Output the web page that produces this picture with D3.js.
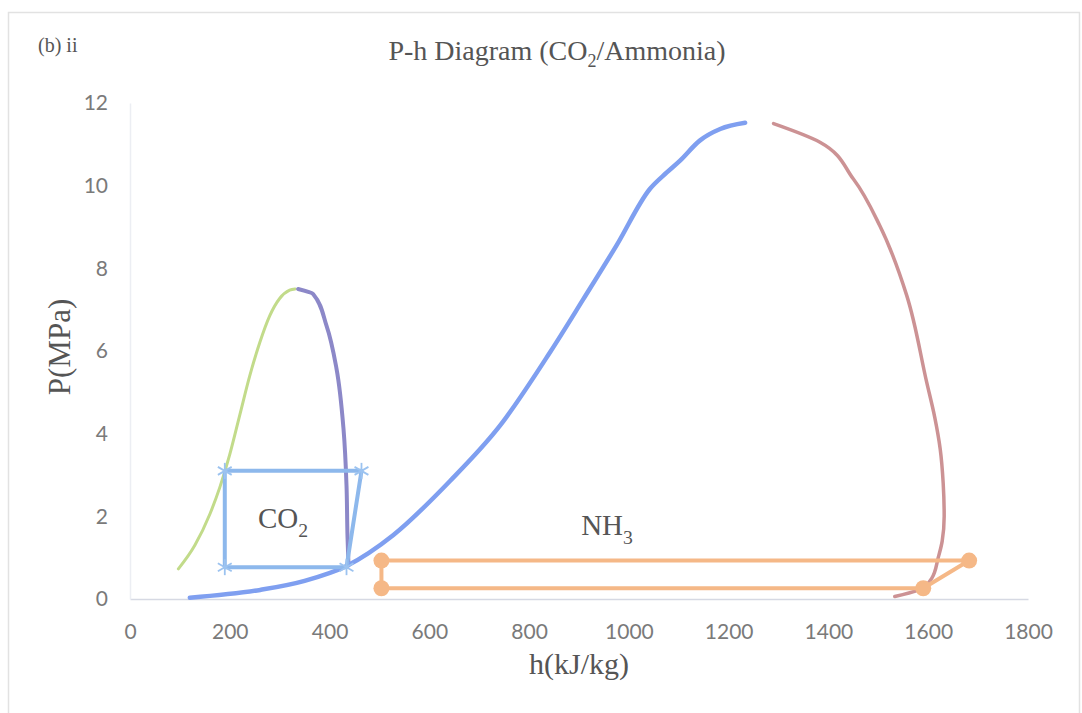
<!DOCTYPE html>
<html>
<head>
<meta charset="utf-8">
<script src="https://cdn.jsdelivr.net/npm/d3@7"></script>
<style>
  html, body { margin: 0; padding: 0; background: #fff; }
  svg { display: block; }
</style>
</head>
<body>
<svg id="chart" width="1082" height="713"></svg>
<script>
// ---- data (h in kJ/kg, P in MPa) ----
const co2LiqH = [97, 130, 160, 180, 200, 220, 240, 260, 280, 300, 320, 331];
const co2LiqP = [0.73, 1.3, 2.05, 2.7, 3.5, 4.45, 5.4, 6.2, 6.85, 7.27, 7.47, 7.5];
const co2VapH = [337, 367, 394, 414, 428, 434, 436, 438];
const co2VapP = [7.5, 7.38, 6.61, 5.57, 4.11, 2.74, 1.5, 0.81];
const nh3LiqH = [120, 261, 350, 434, 528, 641, 742, 842, 909, 975, 1042, 1076, 1102, 1142, 1183, 1233];
const nh3LiqP = [0.03, 0.22, 0.44, 0.8, 1.55, 2.85, 4.2, 5.97, 7.26, 8.55, 9.92, 10.32, 10.6, 11.09, 11.37, 11.52];
const nh3VapH = [1290, 1383, 1450, 1503, 1557, 1597, 1613, 1624, 1630, 1632, 1628, 1620, 1607, 1577, 1533];
const nh3VapP = [11.5, 11.05, 10.16, 9.03, 7.34, 5.24, 4.4, 3.63, 2.8, 2.0, 1.4, 1.0, 0.5, 0.2, 0.06];
const co2CycleH = [190, 464, 434, 190, 190];
const co2CycleP = [3.1, 3.1, 0.77, 0.77, 3.1];
const nh3CycleH = [504, 1682, 1590, 504, 504];
const nh3CycleP = [0.93, 0.93, 0.26, 0.26, 0.93];
const xTicks = [0, 200, 400, 600, 800, 1000, 1200, 1400, 1600, 1800];
const yTicks = [0, 2, 4, 6, 8, 10, 12];

const zip = (hs, ps) => hs.map((h, i) => ({h, p: ps[i]}));

const svg = d3.select("#chart");
const x = d3.scaleLinear().domain([0, 1800]).range([130, 1028]);
const y = d3.scaleLinear().domain([0, 12]).range([599, 103]);

// chart border
svg.append("rect").attr("x", 8.5).attr("y", 12.5).attr("width", 1071).attr("height", 710)
  .attr("fill", "none").attr("stroke", "#e2e2e2").attr("stroke-width", 1.5);

// axes
const xAxis = svg.append("g").attr("transform", `translate(0,${y(0)})`)
  .call(d3.axisBottom(x).tickValues(xTicks).tickSize(0).tickPadding(25).tickFormat(d3.format("d")));
const yAxis = svg.append("g").attr("transform", `translate(${x(0)},0)`)
  .call(d3.axisLeft(y).tickValues(yTicks).tickSize(0).tickPadding(22).tickFormat(d3.format("d")));
[xAxis, yAxis].forEach(g => {
  g.select(".domain").attr("stroke", "#d6d9e3").attr("stroke-width", 1.5);
  g.selectAll("text").attr("font-family", "Lato, 'Open Sans', sans-serif")
    .attr("font-size", 21).attr("fill", "#7a7a7a");
});
yAxis.select(".domain").attr("stroke", "#eceef3");

const lineX = d3.line().x(d => x(d.h)).y(d => y(d.p)).curve(d3.curveMonotoneX);
const lineY = d3.line().x(d => x(d.h)).y(d => y(d.p)).curve(d3.curveMonotoneY);
const straight = d3.line().x(d => x(d.h)).y(d => y(d.p));

function curve(data, gen, color, w) {
  svg.append("path").datum(data).attr("d", gen)
    .attr("fill", "none").attr("stroke", color).attr("stroke-width", w)
    .attr("stroke-linecap", "round").attr("stroke-linejoin", "round");
}
curve(zip(co2LiqH, co2LiqP), lineX, "#c2db8a", 3);
curve(zip(co2VapH, co2VapP).reverse(), lineY, "#8c88c8", 4);
curve(zip(nh3LiqH, nh3LiqP), lineX, "#7f9ff0", 4.5);
curve(zip(nh3VapH, nh3VapP).reverse(), lineY, "#cc9294", 3.5);

// CO2 cycle
const co2Cyc = zip(co2CycleH, co2CycleP);
svg.append("path").datum(co2Cyc).attr("d", straight)
  .attr("fill", "none").attr("stroke", "#8db8ec").attr("stroke-width", 4).attr("stroke-linejoin", "round");
const star = svg.append("g").selectAll("g").data(co2Cyc.slice(0, 4)).join("g")
  .attr("transform", d => `translate(${x(d.h)},${y(d.p)})`);
[0, 60, 120].forEach(a => {
  star.append("line").attr("x1", -8).attr("x2", 8).attr("y1", 0).attr("y2", 0)
    .attr("transform", `rotate(${a + 90})`)
    .attr("stroke", "#9cc3f0").attr("stroke-width", 1.8);
});

// NH3 cycle
const nh3Cyc = zip(nh3CycleH, nh3CycleP);
svg.append("path").datum(nh3Cyc).attr("d", straight)
  .attr("fill", "none").attr("stroke", "#f5b887").attr("stroke-width", 4).attr("stroke-linejoin", "round");
svg.append("g").selectAll("circle").data(nh3Cyc.slice(0, 4)).join("circle")
  .attr("cx", d => x(d.h)).attr("cy", d => y(d.p)).attr("r", 8)
  .attr("fill", "#f5b887");

// labels
const serif = "'Liberation Serif', 'DejaVu Serif', serif";
function sub(txt, subTxt, px, py, size) {
  const t = svg.append("text").attr("x", px).attr("y", py).attr("font-family", serif)
    .attr("font-size", size).attr("fill", "#555").attr("text-anchor", "middle");
  t.append("tspan").text(txt);
  t.append("tspan").attr("dy", size * 0.3).attr("font-size", size * 0.68).text(subTxt);
  return t;
}
sub("CO", "2", 283, 528, 29);
sub("NH", "3", 607, 535, 29);

svg.append("text").attr("x", 38).attr("y", 52).attr("font-family", serif)
  .attr("font-size", 20).attr("fill", "#555").text("(b) ii");

const title = svg.append("text").attr("x", 557).attr("y", 60).attr("font-family", serif)
  .attr("font-size", 28).attr("fill", "#555").attr("text-anchor", "middle");
title.append("tspan").text("P-h Diagram (CO");
title.append("tspan").attr("dy", 7).attr("font-size", 18).text("2");
title.append("tspan").attr("dy", -7).text("/Ammonia)");

svg.append("text").attr("x", 579).attr("y", 674).attr("font-family", serif)
  .attr("font-size", 30).attr("fill", "#555").attr("text-anchor", "middle").text("h(kJ/kg)");
svg.append("text").attr("transform", "translate(70,347) rotate(-90)").attr("font-family", serif)
  .attr("font-size", 31).attr("fill", "#555").attr("text-anchor", "middle").text("P(MPa)");
</script>
</body>
</html>
